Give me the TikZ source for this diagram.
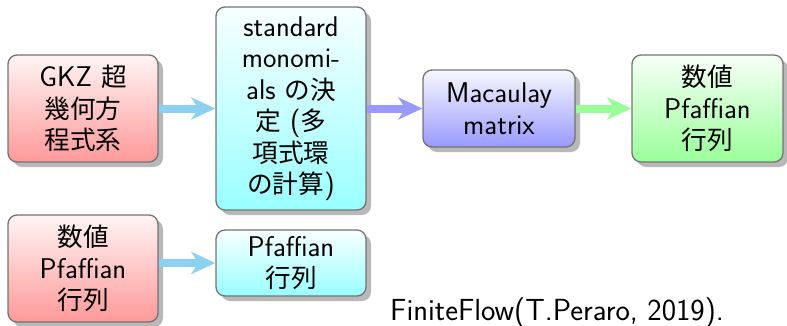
\documentclass[tikz,border=0pt]{standalone}
\usepackage{fontspec}
\newfontfamily\jp{Noto Sans CJK JP}[Scale=0.9]
\usetikzlibrary{shadows,arrows.meta}
\definecolor{skyarrow}{RGB}{140,210,240}
\definecolor{bluearrow}{RGB}{153,153,255}
\definecolor{greenarrow}{RGB}{153,255,153}
\tikzset{
  box/.style={draw=black!55, line width=1.3pt, rounded corners=9pt, align=center,
    font=\sffamily\fontsize{28.5}{31.5}\selectfont, inner sep=0pt,
    drop shadow={shadow xshift=5pt, shadow yshift=-5pt, fill=black!28, opacity=1}},
  redbox/.style={box, top color=red!4, bottom color=red!40},
  cyanbox/.style={box, top color=cyan!3, bottom color=cyan!40},
  bluebox/.style={box, top color=blue!3, bottom color=blue!40},
  greenbox/.style={box, top color=green!3, bottom color=green!40},
  flow/.style={line width=8pt, -{Stealth[length=24pt,width=22pt,inset=7pt]}}
}
\begin{document}
\begin{tikzpicture}[x=1pt,y=1pt]
\useasboundingbox (0,0) rectangle (787,325);
\node[redbox, minimum width=150pt, minimum height=107pt] (gkz) at (83,216.5)
  {GKZ {\jp 超}\\{\jp 幾何方}\\{\jp 程式系}};
\node[cyanbox, minimum width=150pt, minimum height=203pt] (std) at (291,216.5)
  {standard\\monomi-\\als {\jp の決}\\{\jp 定} ({\jp 多}\\{\jp 項式環}\\{\jp の計算})};
\node[bluebox, minimum width=152pt, minimum height=77pt] (mac) at (499,216.5)
  {Macaulay\\matrix};
\node[greenbox, minimum width=151pt, minimum height=107pt] (num) at (707.5,216.5)
  {{\jp 数値}\\Pfaffian\\{\jp 行列}};
\node[redbox, minimum width=150pt, minimum height=107pt] (num2) at (83,56.5)
  {{\jp 数値}\\Pfaffian\\{\jp 行列}};
\node[cyanbox, minimum width=150pt, minimum height=66pt] (pf) at (291,62)
  {Pfaffian\\{\jp 行列}};
\node[anchor=base west, inner sep=0pt, font=\sffamily\fontsize{30.5}{34}\selectfont] (ff) at (390,5)
  {FiniteFlow(T.Peraro, 2019).};
\draw[flow, skyarrow] (gkz.east) -- (std.west);
\draw[flow, bluearrow] (std.east |- mac.west) -- (mac.west);
\draw[flow, greenarrow] (mac.east) -- (num.west);
\draw[flow, skyarrow] (num2.east |- pf.west) -- (pf.west);
\end{tikzpicture}
\end{document}
